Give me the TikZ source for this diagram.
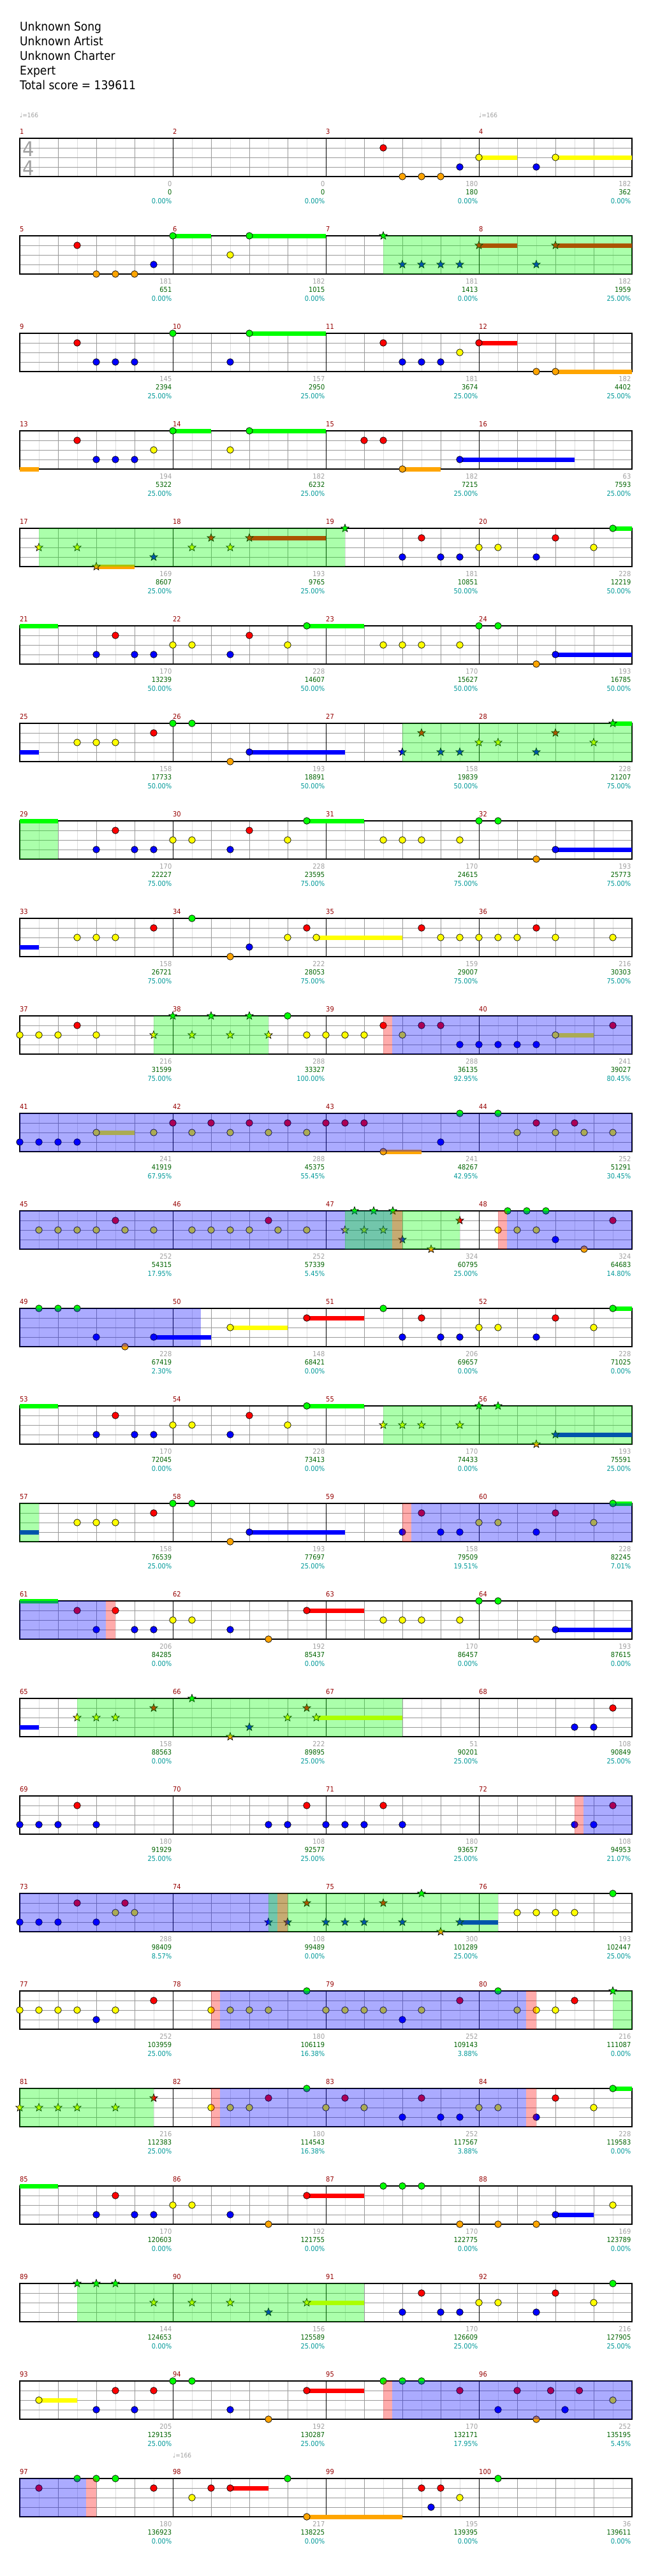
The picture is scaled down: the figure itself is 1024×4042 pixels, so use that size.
\documentclass[tikz,border=0pt]{standalone}
\usepackage{fontspec}
\setmainfont{DejaVu Sans}[FakeStretch=0.9]
\usetikzlibrary{positioning}

\definecolor{lane0}{RGB}{0,255,0}
\definecolor{lane1}{RGB}{255,0,0}
\definecolor{lane2}{RGB}{255,255,0}
\definecolor{lane3}{RGB}{0,0,255}
\definecolor{lane4}{RGB}{255,165,0}
\definecolor{barnum}{RGB}{150,0,0}
\definecolor{cntgray}{RGB}{160,160,160}
\definecolor{scoregreen}{RGB}{0,100,0}
\definecolor{pctteal}{RGB}{0,153,153}
\definecolor{gridlight}{RGB}{221,221,221}
\definecolor{gridmid}{RGB}{153,153,153}

\pgfdeclarelayer{paper}
\pgfdeclarelayer{grid}
\pgfdeclarelayer{sus}
\pgfdeclarelayer{over}
\pgfsetlayers{paper,grid,sus,main,over}

% row, position (eighths), lane
\newcommand{\hit}[3]{%
  \pgfmathsetmacro\nx{31+30*#2}%
  \pgfmathsetmacro\ny{217+153*(#1-1)+15*#3}%
  \draw[note,fill=lane#3] (\nx,\ny) circle (5.3pt);}
\newcommand{\starhit}[3]{%
  \pgfmathsetmacro\nx{31+30*#2}%
  \pgfmathsetmacro\ny{217+153*(#1-1)+15*#3}%
  \draw[note,fill=lane#3,shift={(\nx,\ny)}] (90:6.5pt) -- (126:2.7pt) -- (162:6.5pt) -- (198:2.7pt) -- (234:6.5pt) -- (270:2.7pt) -- (306:6.5pt) -- (342:2.7pt) -- (18:6.5pt) -- (54:2.7pt) -- cycle;}
% row, from, to, lane
\newcommand{\sus}[4]{%
  \pgfmathsetmacro\xa{31+30*#2}%
  \pgfmathsetmacro\xb{31+30*#3}%
  \pgfmathsetmacro\ny{217+153*(#1-1)+15*#4}%
  \begin{pgfonlayer}{sus}\fill[lane#4] (\xa,\ny-3.5) rectangle (\xb,\ny+3.5);\end{pgfonlayer}}
% row, from, to, style
\newcommand{\zone}[4]{%
  \pgfmathsetmacro\xa{31+30*#2}%
  \pgfmathsetmacro\xb{31+30*#3}%
  \pgfmathsetmacro\yt{217+153*(#1-1)}%
  \begin{pgfonlayer}{over}\fill[#4] (\xa,\yt) rectangle (\xb,\yt+60);\end{pgfonlayer}}

\begin{document}
\begin{tikzpicture}[x=1pt, y=-1pt,
    note/.style={draw=black, line width=0.7pt},
    eighth/.style={draw=gridlight, line width=0.8pt},
    beat/.style={draw=gridmid, line width=0.8pt},
    laneline/.style={draw=gridmid, line width=1pt},
    barline/.style={draw=black, line width=0.8pt},
    staff/.style={draw=black, line width=1.5pt},
    spzone/.style={fill=lane0, opacity=0.33},
    actzone/.style={fill=lane3, opacity=0.33},
    edgezone/.style={fill=lane1, opacity=0.33},
    hdr/.style={anchor=base west, inner sep=0pt, font=\fontsize{19}{23}\selectfont},
    tsig/.style={anchor=base west, inner sep=0pt, text=cntgray, font=\fontsize{32}{36}\selectfont},
    tempo/.style={anchor=base west, inner sep=0pt, text=cntgray, font=\fontsize{10}{12}\selectfont},
    mnum/.style={anchor=base west, inner sep=0pt, text=barnum, font=\fontsize{11}{13}\selectfont},
    cnt/.style={anchor=base east, inner sep=0pt, text=cntgray, font=\fontsize{11}{13}\selectfont},
    scr/.style={anchor=base east, inner sep=0pt, text=scoregreen, font=\fontsize{11}{13}\selectfont},
    pct/.style={anchor=base east, inner sep=0pt, text=pctteal, font=\fontsize{11}{13}\selectfont}]
  \begin{pgfonlayer}{paper}
  \fill[white] (0,0) rectangle (1024,4042);
  \end{pgfonlayer}
  \useasboundingbox (0,0) rectangle (1024,4042);

  \node[hdr] (song) at (31,48) {Unknown Song};
  \node[hdr] (artist) at (31,71) {Unknown Artist};
  \node[hdr] (charter) at (31,94) {Unknown Charter};
  \node[hdr] (level) at (31,117) {Expert};
  \node[hdr] (total) at (31,140) {Total score = 139611};

  \node[tempo] (bpm1) at (31,184) {♩=166};
  \node[tempo] (bpm2) at (751,184) {♩=166};
  \node[tempo] (bpm3) at (271,3856) {♩=166};

  % staves
  \begin{pgfonlayer}{grid}
  \foreach \rw in {0,...,24}{
    \pgfmathsetmacro\yt{217+153*\rw}
    \foreach \pos in {1,3,...,31} \draw[eighth] (31+30*\pos,\yt) -- (31+30*\pos,\yt+60);
    \foreach \pos in {2,4,6,10,12,14,18,20,22,26,28,30} \draw[beat] (31+30*\pos,\yt) -- (31+30*\pos,\yt+60);
    \foreach \lane in {1,2,3} \draw[laneline] (31,\yt+15*\lane) -- (991,\yt+15*\lane);
    \foreach \pos in {8,16,24} \draw[barline] (31+30*\pos,\yt) -- (31+30*\pos,\yt+60);
    \draw[staff] (31,\yt) rectangle (991,\yt+60);
  }
  \node[tsig] (tsup) at (35,245) {4};
  \node[tsig] (tsdown) at (35,275) {4};
  \end{pgfonlayer}

  % measure numbers and running totals
  \foreach \m/\c/\s/\p in {1/0/0/0.00,2/0/0/0.00,3/180/180/0.00,4/182/362/0.00,
      5/181/651/0.00,6/182/1015/0.00,7/181/1413/0.00,8/182/1959/25.00,
      9/145/2394/25.00,10/157/2950/25.00,11/181/3674/25.00,12/182/4402/25.00,
      13/194/5322/25.00,14/182/6232/25.00,15/182/7215/25.00,16/63/7593/25.00,
      17/169/8607/25.00,18/193/9765/25.00,19/181/10851/50.00,20/228/12219/50.00,
      21/170/13239/50.00,22/228/14607/50.00,23/170/15627/50.00,24/193/16785/50.00,
      25/158/17733/50.00,26/193/18891/50.00,27/158/19839/50.00,28/228/21207/75.00,
      29/170/22227/75.00,30/228/23595/75.00,31/170/24615/75.00,32/193/25773/75.00,
      33/158/26721/75.00,34/222/28053/75.00,35/159/29007/75.00,36/216/30303/75.00,
      37/216/31599/75.00,38/288/33327/100.00,39/288/36135/92.95,40/241/39027/80.45,
      41/241/41919/67.95,42/288/45375/55.45,43/241/48267/42.95,44/252/51291/30.45,
      45/252/54315/17.95,46/252/57339/5.45,47/324/60795/25.00,48/324/64683/14.80,
      49/228/67419/2.30,50/148/68421/0.00,51/206/69657/0.00,52/228/71025/0.00,
      53/170/72045/0.00,54/228/73413/0.00,55/170/74433/0.00,56/193/75591/25.00,
      57/158/76539/25.00,58/193/77697/25.00,59/158/79509/19.51,60/228/82245/7.01,
      61/206/84285/0.00,62/192/85437/0.00,63/170/86457/0.00,64/193/87615/0.00,
      65/158/88563/0.00,66/222/89895/25.00,67/51/90201/25.00,68/108/90849/25.00,
      69/180/91929/25.00,70/108/92577/25.00,71/180/93657/25.00,72/108/94953/21.07,
      73/288/98409/8.57,74/108/99489/0.00,75/300/101289/25.00,76/193/102447/25.00,
      77/252/103959/25.00,78/180/106119/16.38,79/252/109143/3.88,80/216/111087/0.00,
      81/216/112383/25.00,82/180/114543/16.38,83/252/117567/3.88,84/228/119583/0.00,
      85/170/120603/0.00,86/192/121755/0.00,87/170/122775/0.00,88/169/123789/0.00,
      89/144/124653/0.00,90/156/125589/25.00,91/170/126609/25.00,92/216/127905/25.00,
      93/205/129135/25.00,94/192/130287/25.00,95/170/132171/17.95,96/252/135195/5.45,
      97/180/136923/0.00,98/217/138225/0.00,99/195/139395/0.00,100/36/139611/0.00}{
    \pgfmathtruncatemacro\rw{(\m-1)/4}
    \pgfmathtruncatemacro\cl{\m-1-4*\rw}
    \pgfmathsetmacro\xs{31+240*\cl}
    \pgfmathsetmacro\yt{217+153*\rw}
    \node[mnum] (mn\m) at (\xs,\yt-7) {\m};
    \node[cnt] (cn\m) at (\xs+238.5,\yt+75.3) {\c};
    \node[scr] (sc\m) at (\xs+238.5,\yt+88.7) {\s};
    \node[pct] (pc\m) at (\xs+238.5,\yt+102) {\p\%};
  }

  % row 1
  \foreach \pos/\lane in {19/1,20/4,21/4,22/4,23/3,24/2,27/3,28/2}{\hit{1}{\pos}{\lane}}
  \sus{1}{24}{26}{2} \sus{1}{28}{32}{2}
  % row 2
  \foreach \pos/\lane in {3/1,4/4,5/4,6/4,7/3,8/0,11/2,12/0}{\hit{2}{\pos}{\lane}}
  \foreach \pos/\lane in {19/0,20/3,21/3,22/3,23/3,24/1,27/3,28/1}{\starhit{2}{\pos}{\lane}}
  \sus{2}{8}{10}{0} \sus{2}{12}{16}{0} \sus{2}{24}{26}{1} \sus{2}{28}{32}{1}
  \zone{2}{19}{32}{spzone}
  % row 3
  \foreach \pos/\lane in {3/1,4/3,5/3,6/3,8/0,11/3,12/0,19/1,20/3,21/3,22/3,23/2,24/1,27/4,28/4}{\hit{3}{\pos}{\lane}}
  \sus{3}{12}{16}{0} \sus{3}{24}{26}{1} \sus{3}{28}{32}{4}
  % row 4
  \foreach \pos/\lane in {3/1,4/3,5/3,6/3,7/2,8/0,11/2,12/0,18/1,19/1,20/4,23/3}{\hit{4}{\pos}{\lane}}
  \sus{4}{0}{1}{4} \sus{4}{8}{10}{0} \sus{4}{12}{16}{0} \sus{4}{20}{22}{4} \sus{4}{23}{29}{3}
  % row 5
  \foreach \pos/\lane in {1/2,3/2,4/4,7/3,9/2,10/1,11/2,12/1,17/0}{\starhit{5}{\pos}{\lane}}
  \foreach \pos/\lane in {20/3,21/1,22/3,23/3,24/2,25/2,27/3,28/1,30/2,31/0}{\hit{5}{\pos}{\lane}}
  \sus{5}{4}{6}{4} \sus{5}{12}{16}{1} \sus{5}{31}{32}{0}
  \zone{5}{1}{17}{spzone}
  % row 6
  \foreach \pos/\lane in {4/3,5/1,6/3,7/3,8/2,9/2,11/3,12/1,14/2,15/0,19/2,20/2,21/2,23/2,24/0,25/0,27/4,28/3}{\hit{6}{\pos}{\lane}}
  \sus{6}{0}{2}{0} \sus{6}{15}{18}{0} \sus{6}{28}{32}{3}
  % row 7
  \foreach \pos/\lane in {3/2,4/2,5/2,7/1,8/0,9/0,11/4,12/3}{\hit{7}{\pos}{\lane}}
  \foreach \pos/\lane in {20/3,21/1,22/3,23/3,24/2,25/2,27/3,28/1,30/2,31/0}{\starhit{7}{\pos}{\lane}}
  \sus{7}{0}{1}{3} \sus{7}{12}{17}{3} \sus{7}{31}{32}{0}
  \zone{7}{20}{32}{spzone}
  % row 8
  \foreach \pos/\lane in {4/3,5/1,6/3,7/3,8/2,9/2,11/3,12/1,14/2,15/0,19/2,20/2,21/2,23/2,24/0,25/0,27/4,28/3}{\hit{8}{\pos}{\lane}}
  \sus{8}{0}{2}{0} \sus{8}{15}{18}{0} \sus{8}{28}{32}{3}
  \zone{8}{0}{2}{spzone}
  % row 9
  \foreach \pos/\lane in {3/2,4/2,5/2,7/1,9/0,11/4,12/3,14/2,15/1,15.5/2,21/1,22/2,23/2,24/2,25/2,26/2,27/1,28/2,31/2}{\hit{9}{\pos}{\lane}}
  \sus{9}{0}{1}{3} \sus{9}{15.5}{20}{2}
  % row 10
  \foreach \pos/\lane in {0/2,1/2,2/2,3/1,4/2,14/0,15/2,16/2,17/2,18/2,19/1,20/2,21/1,22/1,23/3,24/3,25/3,26/3,27/3,28/2,31/1}{\hit{10}{\pos}{\lane}}
  \foreach \pos/\lane in {7/2,8/0,9/2,10/0,11/2,12/0,13/2}{\starhit{10}{\pos}{\lane}}
  \sus{10}{28}{30}{2}
  \zone{10}{7}{13}{spzone} \zone{10}{19}{19.45}{edgezone} \zone{10}{19.45}{32}{actzone}
  % row 11
  \foreach \pos/\lane in {0/3,1/3,2/3,3/3,4/2,7/2,8/1,9/2,10/1,11/2,12/1,13/2,14/1,15/2,16/1,17/1,18/1,19/4,22/3,23/0,25/0,26/2,27/1,28/2,29/1,29.5/2,31/2}{\hit{11}{\pos}{\lane}}
  \sus{11}{4}{6}{2} \sus{11}{19}{21}{4}
  \zone{11}{0}{32}{actzone}
  % row 12
  \foreach \pos/\lane in {1/2,2/2,3/2,4/2,5/1,5.5/2,7/2,9/2,10/2,11/2,12/2,13/1,13.5/2,15/2,25/2,25.5/0,26/2,26.5/0,27/2,27.5/0,28/3,29.5/4,31/1}{\hit{12}{\pos}{\lane}}
  \foreach \pos/\lane in {17/2,17.5/0,18/2,18.5/0,19/2,19.5/0,20/3,21.5/4,23/1}{\starhit{12}{\pos}{\lane}}
  \zone{12}{0}{19.45}{actzone} \zone{12}{17}{23}{spzone} \zone{12}{19.45}{20}{edgezone}
  \zone{12}{25}{25.45}{edgezone} \zone{12}{25.45}{32}{actzone}
  % row 13
  \foreach \pos/\lane in {1/0,2/0,3/0,4/3,5.5/4,7/3,11/2,15/1,19/0,20/3,21/1,22/3,23/3,24/2,25/2,27/3,28/1,30/2,31/0}{\hit{13}{\pos}{\lane}}
  \sus{13}{7}{10}{3} \sus{13}{11}{14}{2} \sus{13}{15}{18}{1} \sus{13}{31}{32}{0}
  \zone{13}{0}{9.45}{actzone}
  % row 14
  \foreach \pos/\lane in {4/3,5/1,6/3,7/3,8/2,9/2,11/3,12/1,14/2,15/0}{\hit{14}{\pos}{\lane}}
  \foreach \pos/\lane in {19/2,20/2,21/2,23/2,24/0,25/0,27/4,28/3}{\starhit{14}{\pos}{\lane}}
  \sus{14}{0}{2}{0} \sus{14}{15}{18}{0} \sus{14}{28}{32}{3}
  \zone{14}{19}{32}{spzone}
  % row 15
  \foreach \pos/\lane in {3/2,4/2,5/2,7/1,8/0,9/0,11/4,12/3,20/3,21/1,22/3,23/3,24/2,25/2,27/3,28/1,30/2,31/0}{\hit{15}{\pos}{\lane}}
  \sus{15}{0}{1}{3} \sus{15}{12}{17}{3} \sus{15}{31}{32}{0}
  \zone{15}{0}{1}{spzone} \zone{15}{20}{20.45}{edgezone} \zone{15}{20.45}{32}{actzone}
  % row 16
  \foreach \pos/\lane in {3/1,4/3,5/1,6/3,7/3,8/2,9/2,11/3,13/4,15/1,19/2,20/2,21/2,23/2,24/0,25/0,27/4,28/3}{\hit{16}{\pos}{\lane}}
  \sus{16}{0}{2}{0} \sus{16}{15}{18}{1} \sus{16}{28}{32}{3}
  \zone{16}{0}{4.5}{actzone} \zone{16}{4.5}{5}{edgezone}
  % row 17
  \foreach \pos/\lane in {3/2,4/2,5/2,7/1,9/0,11/4,12/3,14/2,15/1,15.5/2}{\starhit{17}{\pos}{\lane}}
  \foreach \pos/\lane in {29/3,30/3,31/1}{\hit{17}{\pos}{\lane}}
  \sus{17}{0}{1}{3} \sus{17}{15.5}{20}{2}
  \zone{17}{3}{20}{spzone}
  % row 18
  \foreach \pos/\lane in {0/3,1/3,2/3,3/1,4/3,13/3,14/3,15/1,16/3,17/3,18/3,19/1,20/3,29/3,30/3,31/1}{\hit{18}{\pos}{\lane}}
  \zone{18}{29}{29.45}{edgezone} \zone{18}{29.45}{32}{actzone}
  % row 19
  \foreach \pos/\lane in {0/3,1/3,2/3,3/1,4/3,5/2,5.5/1,6/2,26/2,27/2,28/2,29/2,31/0}{\hit{19}{\pos}{\lane}}
  \foreach \pos/\lane in {13/3,14/3,15/1,16/3,17/3,18/3,19/1,20/3,21/0,22/4,23/3}{\starhit{19}{\pos}{\lane}}
  \sus{19}{23}{25}{3}
  \zone{19}{0}{13.45}{actzone} \zone{19}{13}{25}{spzone} \zone{19}{13.45}{14}{edgezone}
  % row 20
  \foreach \pos/\lane in {0/2,1/2,2/2,3/2,4/3,5/2,7/1,10/2,11/2,12/2,13/2,15/0,16/2,17/2,18/2,19/2,20/3,21/2,23/1,25/0,26/2,27/2,28/2,29/1}{\hit{20}{\pos}{\lane}}
  \starhit{20}{31}{0}
  \zone{20}{10}{10.45}{edgezone} \zone{20}{10.45}{26.45}{actzone} \zone{20}{26.45}{27}{edgezone}
  \zone{20}{31}{32}{spzone}
  % row 21
  \foreach \pos/\lane in {0/2,1/2,2/2,3/2,5/2,7/1}{\starhit{21}{\pos}{\lane}}
  \foreach \pos/\lane in {10/2,11/2,12/2,13/1,15/0,16/2,17/1,18/2,20/3,21/1,22/3,23/3,24/2,25/2,27/3,28/1,30/2,31/0}{\hit{21}{\pos}{\lane}}
  \sus{21}{31}{32}{0}
  \zone{21}{0}{7}{spzone} \zone{21}{10}{10.45}{edgezone} \zone{21}{10.45}{26.45}{actzone} \zone{21}{26.45}{27}{edgezone}
  % row 22
  \foreach \pos/\lane in {4/3,5/1,6/3,7/3,8/2,9/2,11/3,13/4,15/1,19/0,20/0,21/0,23/4,25/4,27/4,28/3,31/2}{\hit{22}{\pos}{\lane}}
  \sus{22}{0}{2}{0} \sus{22}{15}{18}{1} \sus{22}{28}{30}{3}
  % row 23
  \foreach \pos/\lane in {3/0,4/0,5/0,7/2,9/2,11/2,13/3,15/2}{\starhit{23}{\pos}{\lane}}
  \foreach \pos/\lane in {20/3,21/1,22/3,23/3,24/2,25/2,27/3,28/1,30/2,31/0}{\hit{23}{\pos}{\lane}}
  \sus{23}{15}{18}{2}
  \zone{23}{3}{18}{spzone}
  % row 24
  \foreach \pos/\lane in {1/2,4/3,5/1,6/3,7/1,8/0,9/0,11/3,13/4,15/1,19/0,20/0,21/0,23/1,25/3,26/1,27/4,27.75/1,28.5/3,29.25/1,31/2}{\hit{24}{\pos}{\lane}}
  \sus{24}{1}{3}{2} \sus{24}{15}{18}{1}
  \zone{24}{19}{19.45}{edgezone} \zone{24}{19.45}{32}{actzone}
  % row 25
  \foreach \pos/\lane in {1/1,3/0,4/0,5/0,7/1,9/2,10/1,11/1,14/0,15/4,21/1,21.5/3,22/1,23/2,25/0}{\hit{25}{\pos}{\lane}}
  \sus{25}{11}{13}{1} \sus{25}{15}{20}{4}
  \zone{25}{0}{3.47}{actzone} \zone{25}{3.47}{4}{edgezone}
\end{tikzpicture}
\end{document}
